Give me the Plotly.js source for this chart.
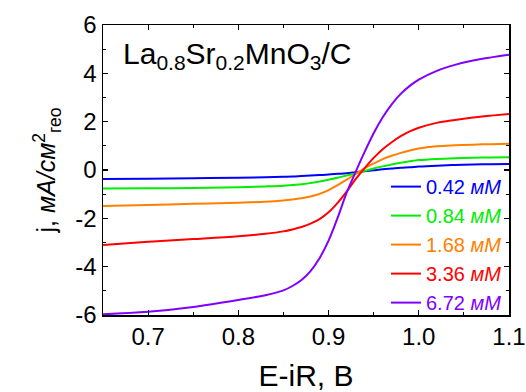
<!DOCTYPE html>
<html>
<head>
<meta charset="utf-8">
<script src="https://cdn.plot.ly/plotly-3.0.1.min.js"></script>
<style>html,body{margin:0;padding:0;background:#fff;}#plot{width:526px;height:392px;}</style>
</head>
<body>
<div id="plot"></div>
<script>
// Potential, V (E-iR)
const potential = [0.65, 0.70, 0.75, 0.80, 0.83, 0.85, 0.86, 0.87, 0.88, 0.89, 0.90, 0.91, 0.92, 0.93, 0.94, 0.95, 0.96, 0.97, 0.98, 0.99, 1.00, 1.02, 1.04, 1.06, 1.08, 1.10];
// Current density, mA/cm2 for each concentration
const j_042 = [-0.37, -0.36, -0.34, -0.32, -0.30, -0.28, -0.27, -0.25, -0.23, -0.21, -0.19, -0.16, -0.13, -0.09, -0.05, -0.01, 0.03, 0.06, 0.09, 0.11, 0.14, 0.18, 0.21, 0.23, 0.24, 0.25];
const j_084 = [-0.77, -0.76, -0.74, -0.71, -0.68, -0.65, -0.62, -0.59, -0.54, -0.48, -0.40, -0.32, -0.23, -0.14, -0.04, 0.06, 0.15, 0.23, 0.30, 0.36, 0.41, 0.46, 0.49, 0.51, 0.52, 0.53];
const j_168 = [-1.49, -1.45, -1.40, -1.35, -1.31, -1.26, -1.22, -1.17, -1.10, -0.99, -0.83, -0.63, -0.40, -0.16, 0.07, 0.27, 0.45, 0.59, 0.71, 0.81, 0.89, 0.98, 1.02, 1.05, 1.07, 1.09];
const j_336 = [-3.10, -2.97, -2.86, -2.74, -2.64, -2.54, -2.46, -2.36, -2.22, -2.03, -1.75, -1.36, -0.89, -0.38, 0.08, 0.50, 0.86, 1.15, 1.40, 1.60, 1.75, 1.95, 2.07, 2.17, 2.25, 2.32];
const j_672 = [-5.97, -5.87, -5.67, -5.38, -5.18, -4.98, -4.80, -4.55, -4.18, -3.65, -2.92, -1.98, -0.95, -0.08, 0.75, 1.52, 2.18, 2.72, 3.15, 3.48, 3.74, 4.10, 4.35, 4.53, 4.66, 4.77];
const seriesLabels = ['0.42', '0.84', '1.68', '3.36', '6.72'];
const seriesValues = [j_042, j_084, j_168, j_336, j_672];
const seriesColors = ['#0000ff', '#00ee00', '#ff8000', '#ff0000', '#8000ff'];
const xTickVals = [0.7, 0.8, 0.9, 1.0, 1.1];
const xTickText = ['0.7', '0.8', '0.9', '1.0', '1.1'];
const yTickVals = [-6, -4, -2, 0, 2, 4, 6];
const yTickText = ['-6', '-4', '-2', '0', '2', '4', '6'];

const traces = seriesValues.map((vals, i) => ({
  x: potential,
  y: vals,
  type: 'scatter',
  mode: 'lines',
  line: {color: seriesColors[i], width: 2, shape: 'spline', smoothing: 1},
  name: '<span style="color:' + seriesColors[i] + '">' + seriesLabels[i] + ' <i>мМ</i></span>'
}));

const fontFam = 'Liberation Sans, Arial, sans-serif';
const axisCommon = {
  showline: true, linecolor: '#000', linewidth: 1.5, mirror: 'allticks',
  ticks: 'inside', ticklen: 5, tickwidth: 1.2, tickcolor: '#000',
  showgrid: false, zeroline: false,
  tickfont: {family: fontFam, size: 24, color: '#000'},
  minor: {ticks: 'inside', ticklen: 3, tickwidth: 1, tickcolor: '#000'}
};

const layout = {
  width: 526, height: 392,
  margin: {l: 103, r: 17, t: 25, b: 77},
  paper_bgcolor: '#fff', plot_bgcolor: '#fff',
  font: {family: fontFam, color: '#000'},
  xaxis: Object.assign({}, axisCommon, {
    range: [0.65, 1.1], tickvals: xTickVals, ticktext: xTickText,
    minor: Object.assign({}, axisCommon.minor, {dtick: 0.05, tick0: 0.65}),
    title: {text: 'E-iR, В', font: {family: fontFam, size: 30, color: '#000'}, standoff: 18}
  }),
  yaxis: Object.assign({}, axisCommon, {
    range: [-6, 6], tickvals: yTickVals, ticktext: yTickText,
    minor: Object.assign({}, axisCommon.minor, {dtick: 1, tick0: -5}),
    title: {text: 'j, <i>мА/см</i><sup>2</sup><sub>гео</sub>', font: {family: fontFam, size: 25, color: '#000'}, standoff: 12}
  }),
  showlegend: true,
  legend: {
    x: 0.995, xanchor: 'right', y: 0.51, yanchor: 'top',
    bgcolor: 'rgba(0,0,0,0)', borderwidth: 0,
    font: {family: fontFam, size: 20},
    itemwidth: 30
  },
  annotations: [{
    xref: 'paper', yref: 'paper', x: 0.045, y: 0.965, xanchor: 'left', yanchor: 'top',
    showarrow: false,
    text: 'La<sub>0.8</sub>Sr<sub>0.2</sub>MnO<sub>3</sub>/C',
    font: {family: fontFam, size: 30, color: '#000'}
  }]
};

Plotly.newPlot('plot', traces, layout, {staticPlot: true, displayModeBar: false});
</script>
</body>
</html>
